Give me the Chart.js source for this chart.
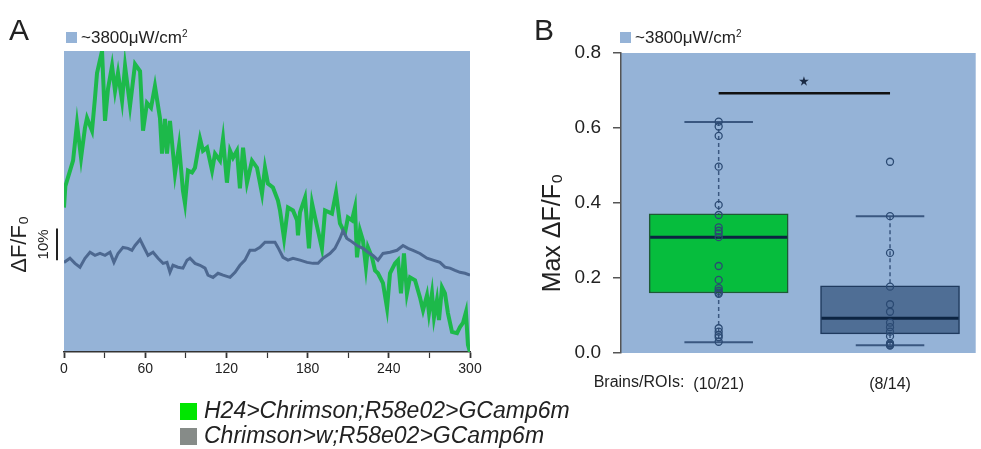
<!DOCTYPE html>
<html>
<head>
<meta charset="utf-8">
<script src="https://cdn.jsdelivr.net/npm/chart.js@4.4.1/dist/chart.umd.min.js"></script>
<style>
    body {
        margin: 0;
        width: 981px;
        height: 449px;
        overflow: hidden;
        position: relative;
        background: #fff;
        font-family: 'Liberation Sans', Arial, sans-serif;
        color: #222;
    }
    canvas { position: absolute; top: 0; }
    #chartA { left: 0; }
    #chartB { left: 500px; }
    .letter { position: absolute; font-size: 30px; line-height: 30px; }
    .light { position: absolute; font-size: 17px; line-height: 18px; white-space: nowrap; }
    .light sup { font-size: 10px; vertical-align: 6px; line-height: 0; }
    .light .sw { display: inline-block; width: 11px; height: 11px; background: #95b3d7; margin-right: 4px; }
    .legend { position: absolute; left: 180px; font-size: 23px; font-style: italic; line-height: 25px; white-space: nowrap; }
    .legend .sw { display: inline-block; width: 17px; height: 17px; margin-right: 7px; vertical-align: -2px; }
</style>
</head>
<body>
<canvas id="chartA" width="500" height="449"></canvas>
<canvas id="chartB" width="481" height="449"></canvas>

<div class="letter" style="left:9px; top:15px;">A</div>
<div class="letter" style="left:534px; top:15px;">B</div>
<div class="light" style="left:66px; top:29px;"><span class="sw"></span>~3800μW/cm<sup>2</sup></div>
<div class="light" style="left:620px; top:29px;"><span class="sw"></span>~3800μW/cm<sup>2</sup></div>
<div class="legend" style="top:398px;"><span class="sw" style="background:#00e600;"></span>H24&gt;Chrimson;R58e02&gt;GCamp6m</div>
<div class="legend" style="top:423px;"><span class="sw" style="background:#868b88;"></span>Chrimson&gt;w;R58e02&gt;GCamp6m</div>

<script>
// panel A: time course (s) vs dF/F0 (%)
const timeGreen = [
    0, 1, 6.7, 9.6, 12.6, 15.5, 17.0, 20.7, 22.9, 24.4,
    28.1, 30.3, 32.5, 35.5, 37.7, 39.9, 42.9, 45.1, 48.8, 52.5,
    56.2, 58.4, 61.3, 64.3, 67.2, 70.9, 72.4, 74.6, 76.1, 78.3,
    82.0, 85.0, 87.9, 89.4, 91.6, 94.6, 96.8, 100.5, 102.7, 105.7,
    109.4, 111.6, 115.3, 117.5, 120.4, 122.7, 124.9, 127.8, 130.0, 132.3,
    135.2, 138.9, 142.6, 146.3, 148.5, 150.7, 154.4, 158.1, 159.6, 162.6,
    165.5, 169.2, 172.2, 172.9, 174.4, 178.1, 181.0, 183.3, 185.5, 190.6,
    192.9, 198.0, 201.0, 203.9, 207.6, 209.8, 212.8, 215.0, 216.5, 218.7,
    220.9, 223.1, 224.6, 227.6, 229.8, 232.0, 235.7, 238.7, 240.9, 244.6,
    246.8, 249.0, 251.2, 253.4, 255.7, 259.4, 263.0, 265.3, 268.2, 269.7,
    271.9, 273.4, 275.6, 277.1, 279.3, 281.5, 283.7, 286.7, 290.4, 292.6,
    294.8, 297.0, 298.5, 300
];
const dffGreen = [
    45.3, 52.0, 60.0, 71.6, 60.9, 70.3, 73.4, 69.4, 79.7, 87.5,
    94.4, 72.5, 82.5, 89.7, 81.9, 87.5, 78.8, 89.7, 77.2, 90.3,
    88.1, 69.4, 78.1, 76.6, 83.4, 73.4, 62.2, 73.1, 62.2, 72.5,
    55.9, 64.7, 50.6, 46.6, 56.9, 56.3, 57.8, 66.9, 63.1, 64.1,
    56.9, 62.2, 60.0, 66.9, 53.1, 63.1, 60.9, 63.1, 51.3, 64.1,
    53.1, 60.0, 57.8, 49.7, 57.8, 52.8, 51.6, 47.5, 44.4, 35.6,
    45.3, 44.4, 41.3, 36.6, 43.8, 48.4, 32.5, 46.6, 42.2, 32.5,
    44.4, 43.4, 50.0, 40.3, 37.2, 42.2, 41.3, 45.3, 29.7, 38.1,
    35.0, 26.6, 32.8, 29.7, 25.6, 24.7, 21.6, 13.8, 24.7, 27.8,
    28.8, 18.4, 30.9, 18.4, 23.4, 22.5, 17.2, 13.1, 17.8, 12.2,
    18.4, 10.9, 16.3, 10.0, 20.3, 18.4, 12.2, 6.3, 5.9, 7.8,
    9.1, 12.5, 2.2, 0
];
const timeGray = [
    0, 4.4, 8.1, 11.8, 15.5, 19.2, 22.9, 26.6, 30.3, 34.0,
    36.9, 39.9, 43.6, 47.3, 50.2, 52.5, 56.2, 58.4, 62.1, 65.8,
    69.5, 73.2, 76.1, 78.3, 80.5, 84.2, 87.9, 90.9, 93.1, 96.8,
    100.5, 104.2, 106.4, 110.1, 113.8, 117.5, 122.7, 126.4, 130.0, 133.7,
    137.4, 141.1, 144.8, 148.5, 152.2, 155.9, 158.1, 161.8, 165.5, 169.2,
    174.4, 179.6, 184.0, 187.7, 191.4, 196.5, 200.2, 203.9, 206.2, 209.1,
    211.3, 216.5, 220.9, 224.6, 228.3, 232.0, 235.7, 240.9, 246.1, 250.5,
    254.2, 257.9, 263.0, 268.2, 272.7, 277.8, 281.5, 285.2, 288.9, 292.6,
    296.3, 300
];
const dffGray = [
    28.1, 29.4, 27.8, 26.6, 29.4, 31.3, 30.3, 30.9, 30.3, 31.3,
    28.1, 30.9, 32.8, 32.5, 31.9, 33.4, 35.3, 33.4, 30.3, 31.3,
    29.4, 27.8, 28.1, 25.0, 27.2, 26.6, 26.3, 28.8, 29.4, 27.8,
    27.2, 26.3, 24.1, 23.4, 24.7, 24.1, 23.4, 25.0, 27.2, 28.8,
    31.9, 31.9, 32.8, 34.4, 34.4, 34.4, 32.8, 29.7, 28.8, 29.4,
    28.8, 28.1, 27.8, 27.8, 29.4, 30.9, 32.5, 35.6, 38.1, 35.6,
    35.0, 33.4, 32.5, 31.3, 30.3, 28.8, 30.9, 31.3, 31.9, 33.4,
    32.5, 31.9, 30.9, 29.4, 28.8, 28.1, 26.6, 26.3, 25.6, 25.0,
    24.7, 24.1
];
const timeLabels = [0, 60, 120, 180, 240, 300];
const scaleBarBase = 28.75;   // % where the 10% bar starts
const scaleBarSize = 10;

// panel B: max dF/F0 per ROI
const groupLabels = ['(10/21)', '(8/14)'];
const groupPrefix = 'Brains/ROIs:';
const boxQ1 = [0.160, 0.051];
const boxMedian = [0.309, 0.093];
const boxQ3 = [0.371, 0.179];
const whiskerLow = [0.029, 0.021];
const whiskerHigh = [0.616, 0.365];
const roisGreen = [0.617, 0.604, 0.579, 0.497, 0.395, 0.368, 0.335, 0.326, 0.319, 0.309, 0.232,
    0.195, 0.173, 0.166, 0.161, 0.158, 0.066, 0.057, 0.048, 0.042, 0.030];
const roisGray = [0.510, 0.365, 0.267, 0.177, 0.130, 0.110, 0.081, 0.069, 0.057, 0.045, 0.026,
    0.023, 0.021, 0.020];
const sigLevel = 0.693;
const sigMark = '★';
const yTitleB = 'Max ΔF/F₀';

const FONT = "'Liberation Sans', Arial, sans-serif";
const BG = '#95b3d7';
const GREEN_LINE = '#1db94a';
const GRAY_LINE = '#4d6890';
const BOX_FILL = ['#06bd3d', '#4f6e95'];
const BOX_EDGE = ['#1d5a35', '#1f3a5e'];
const WHISKER = '#3a5780';

Chart.defaults.font.family = FONT;
Chart.defaults.color = '#222';

const plotBackground = {
    id: 'plotBackground',
    beforeDraw(chart) {
        const { ctx, chartArea: a } = chart;
        ctx.save();
        ctx.fillStyle = BG;
        ctx.fillRect(a.left, a.top, a.right - a.left, a.bottom - a.top);
        ctx.restore();
    }
};

// vertical 10% scale bar and dF/F0 label on the left of panel A
const scaleBar = {
    id: 'scaleBar',
    afterDraw(chart) {
        const { ctx, chartArea: a, scales: { y } } = chart;
        const y0 = y.getPixelForValue(scaleBarBase);
        const y1 = y.getPixelForValue(scaleBarBase + scaleBarSize);
        const x = a.left - 7;
        ctx.save();
        ctx.strokeStyle = '#222';
        ctx.lineWidth = 2;
        ctx.beginPath();
        ctx.moveTo(x, y0);
        ctx.lineTo(x, y1);
        ctx.stroke();

        ctx.fillStyle = '#222';
        ctx.textAlign = 'center';
        ctx.textBaseline = 'middle';
        ctx.save();
        ctx.translate(x - 13, (y0 + y1) / 2);
        ctx.rotate(-Math.PI / 2);
        ctx.font = '15px ' + FONT;
        ctx.fillText(scaleBarSize + '%', 0, 0);
        ctx.restore();

        ctx.translate(x - 37, (y0 + y1) / 2);
        ctx.rotate(-Math.PI / 2);
        ctx.font = '22px ' + FONT;
        ctx.fillText('ΔF/F₀', 0, 0);
        ctx.restore();
    }
};

new Chart(document.getElementById('chartA'), {
    type: 'line',
    data: {
        datasets: [
            {
                label: 'Chrimson>w;R58e02>GCamp6m',
                data: timeGray.map((t, i) => ({ x: t, y: dffGray[i] })),
                borderColor: GRAY_LINE,
                borderWidth: 3,
                pointRadius: 0
            },
            {
                label: 'H24>Chrimson;R58e02>GCamp6m',
                data: timeGreen.map((t, i) => ({ x: t, y: dffGreen[i] })),
                borderColor: GREEN_LINE,
                borderWidth: 4,
                pointRadius: 0
            }
        ]
    },
    options: {
        responsive: false,
        animation: false,
        events: [],
        layout: { padding: { left: 64, top: 51, right: 30, bottom: 0 } },
        plugins: { legend: { display: false }, tooltip: { enabled: false } },
        scales: {
            x: {
                type: 'linear',
                min: 0,
                max: 300,
                afterFit(scale) { scale.height = 97; },
                ticks: {
                    stepSize: 30,
                    autoSkip: false,
                    maxRotation: 0,
                    padding: 3,
                    font: { size: 14 },
                    callback: v => timeLabels.includes(v) ? String(v) : ''
                },
                grid: {
                    drawOnChartArea: false,
                    tickLength: 6,
                    color: '#333',
                    tickWidth: c => (c.tick && timeLabels.includes(c.tick.value)) ? 1.8 : 1.2
                },
                border: { color: '#333', width: 1.5 }
            },
            y: { display: false, min: 0, max: 94.4 }
        }
    },
    plugins: [plotBackground, scaleBar]
});

// panel B: box plots built from line / bar / scatter datasets
const centers = [1, 2];
const boxHalf = 0.4;
const capHalf = 0.2;
const groupPoints = [roisGreen, roisGray];

const boxDatasets = [{
    type: 'bar',
    data: centers.map((c, i) => ({ x: c, y: [boxQ1[i], boxQ3[i]] })),
    backgroundColor: BOX_FILL,
    borderColor: BOX_EDGE,
    borderWidth: 1.5,
    borderSkipped: false,
    barThickness: 139,
    grouped: false,
    order: 5
}];

function segment(points, color, width, dash, order) {
    return {
        type: 'line',
        data: points,
        borderColor: color,
        borderWidth: width,
        borderDash: dash,
        pointRadius: 0,
        order: order
    };
}

centers.forEach((c, i) => {
    boxDatasets.push(segment([{ x: c, y: whiskerHigh[i] }, { x: c, y: boxQ3[i] }], WHISKER, 1.5, [4, 3], 4));
    boxDatasets.push(segment([{ x: c, y: boxQ1[i] }, { x: c, y: whiskerLow[i] }], WHISKER, 1.5, [4, 3], 4));
    boxDatasets.push(segment([{ x: c - capHalf, y: whiskerHigh[i] }, { x: c + capHalf, y: whiskerHigh[i] }], WHISKER, 2, [], 3));
    boxDatasets.push(segment([{ x: c - capHalf, y: whiskerLow[i] }, { x: c + capHalf, y: whiskerLow[i] }], WHISKER, 2, [], 3));
    boxDatasets.push(segment([{ x: c - boxHalf, y: boxMedian[i] }, { x: c + boxHalf, y: boxMedian[i] }], '#0c2442', 3, [], 2));
    boxDatasets.push({
        type: 'scatter',
        data: groupPoints[i].map(v => ({ x: c, y: v })),
        pointRadius: 3.5,
        pointBackgroundColor: 'rgba(0,0,0,0)',
        pointBorderColor: '#2b4a73',
        pointBorderWidth: 1.3,
        order: 0
    });
});
boxDatasets.push(segment([{ x: centers[0], y: sigLevel }, { x: centers[1], y: sigLevel }], '#111', 2.5, [], 1));

// y title, "Brains/ROIs:" in front of the first count and the significance star
const boxExtras = {
    id: 'boxExtras',
    afterDraw(chart) {
        const { ctx, chartArea: a, scales: { x, y } } = chart;
        ctx.save();
        ctx.fillStyle = '#222';
        ctx.font = '16px ' + FONT;
        const firstW = ctx.measureText(groupLabels[0]).width;
        ctx.textAlign = 'right';
        ctx.textBaseline = 'middle';
        ctx.fillText(groupPrefix, x.getPixelForValue(centers[0]) - firstW / 2 - 9, x.top + 30);

        ctx.textAlign = 'center';
        ctx.font = 'bold 11px ' + FONT;
        ctx.fillStyle = '#1a2a44';
        ctx.fillText(sigMark, x.getPixelForValue((centers[0] + centers[1]) / 2), y.getPixelForValue(sigLevel) - 11);

        ctx.translate(a.left - 68, (a.top + a.bottom) / 2 + 30);
        ctx.rotate(-Math.PI / 2);
        ctx.font = '25px ' + FONT;
        ctx.fillStyle = '#222';
        ctx.fillText(yTitleB, 0, 0);
        ctx.restore();
    }
};

new Chart(document.getElementById('chartB'), {
    type: 'scatter',
    data: { datasets: boxDatasets },
    options: {
        responsive: false,
        animation: false,
        events: [],
        layout: { padding: { left: 42, top: 53, right: 0, bottom: 0 } },
        plugins: { legend: { display: false }, tooltip: { enabled: false } },
        scales: {
            x: {
                type: 'linear',
                min: 0.43,
                max: 2.50,
                offset: false,
                afterFit(scale) { scale.height = 96; },
                afterBuildTicks(scale) { scale.ticks = centers.map(v => ({ value: v })); },
                ticks: {
                    autoSkip: false,
                    maxRotation: 0,
                    padding: 22,
                    font: { size: 16 },
                    callback: (v, i) => groupLabels[i]
                },
                grid: { display: false, drawTicks: false, offset: false },
                border: { display: false }
            },
            y: {
                min: 0,
                max: 0.8,
                afterFit(scale) { scale.width = 79; },
                ticks: {
                    stepSize: 0.2,
                    padding: 12,
                    font: { size: 19 },
                    callback: v => v.toFixed(1)
                },
                grid: { drawOnChartArea: false, tickLength: 8, color: '#555', lineWidth: 1.5 },
                border: { color: '#555', width: 1.5 }
            }
        }
    },
    plugins: [plotBackground, boxExtras]
});
</script>
</body>
</html>
